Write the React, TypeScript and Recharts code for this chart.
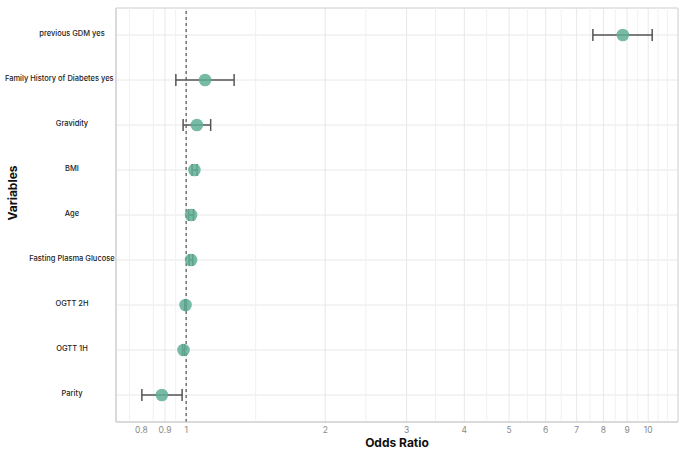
import React from 'react';
import {
  ScatterChart, Scatter, XAxis, YAxis, CartesianGrid, ErrorBar,
  ReferenceLine, ReferenceArea,
} from 'recharts';

// rows from bottom (y=1) to top (y=9)
const VARIABLES = [
  'Parity', 'OGTT 1H', 'OGTT 2H', 'Fasting Plasma Glucose', 'Age',
  'BMI', 'Gravidity', 'Family History of Diabetes yes', 'previous GDM yes',
];
const ODDS = [0.886, 0.987, 0.997, 1.025, 1.025, 1.042, 1.055, 1.099, 8.81];
const LOWER = [0.802, 0.982, 0.993, 1.015, 1.012, 1.03, 0.985, 0.95, 7.59];
const UPPER = [0.98, 0.992, 1.001, 1.034, 1.037, 1.056, 1.13, 1.27, 10.2];

const X_TICKS = [0.8, 0.9, 1, 2, 3, 4, 5, 6, 7, 8, 9, 10];
const X_MINOR = [0.754, 0.849, 0.949, 1.414, 2.449, 3.464, 4.472, 5.477, 6.481, 7.483, 8.485, 9.487, 10.5, 11];
const X_DOMAIN = [0.705, 11.6];
const Y_DOMAIN = [0.4, 9.6];
const Y_TICKS = [1, 2, 3, 4, 5, 6, 7, 8, 9];

const data = VARIABLES.map((name, i) => ({
  name,
  x: ODDS[i],
  y: i + 1,
  ci: [ODDS[i] - LOWER[i], UPPER[i] - ODDS[i]],
}));

function VarTick(props: any) {
  const { y, payload } = props;
  const label = VARIABLES[Math.round(payload.value) - 1] ?? '';
  // rough width estimate for 7.5px Inter
  const w = label.length * 3.65;
  const cx = Math.min(72, 114 - w / 2);
  return (
    <text x={cx} y={y - 1} textAnchor="middle" dominantBaseline="middle"
      fontFamily="Inter" fontSize={7.5} fontWeight={500} fill="#222">
      {label}
    </text>
  );
}

function YTitle(props: any) {
  const vb = props.viewBox;
  const x = vb.x + 14;
  const y = vb.y + vb.height / 2 - 22;
  return (
    <text x={x} y={y} transform={`rotate(-90 ${x} ${y})`} textAnchor="middle"
      dominantBaseline="middle" fontFamily="Inter" fontSize={12} fontWeight={700} fill="#111">
      Variables
    </text>
  );
}

function Dot(props: any) {
  return <circle cx={props.cx} cy={props.cy} r={6.3} fill="#5fae97" fillOpacity={0.85} />;
}

export default function App() {
  return (
    <div style={{ position: 'absolute', left: 0, top: 0, background: '#fff' }}>
      <ScatterChart width={685} height={457} margin={{ top: 8, right: 7, bottom: 0, left: 0 }}>
        {X_MINOR.map(v => (
          <ReferenceLine key={v} x={v} stroke="#f1f1f1" strokeWidth={1} />
        ))}
        <CartesianGrid stroke="#e8e8e8" />
        <ReferenceArea x1={X_DOMAIN[0]} x2={X_DOMAIN[1]} y1={Y_DOMAIN[0]} y2={Y_DOMAIN[1]}
          fill="none" stroke="#d8d8d8" strokeWidth={1} />
        <XAxis type="number" dataKey="x" scale="log" domain={X_DOMAIN} allowDataOverflow
          ticks={X_TICKS} tickFormatter={(v: number) => String(v)} height={35}
          tickLine={false} axisLine={{ stroke: '#cfcfcf' }} tickSize={3} tickMargin={2}
          tick={{ fontFamily: 'Inter', fontSize: 8.5, fill: '#8a8a8a' }}
          label={{ value: 'Odds Ratio', position: 'insideBottom', offset: 10,
            style: { fontFamily: 'Inter', fontSize: 12, fontWeight: 700, fill: '#111' } }} />
        <YAxis type="number" dataKey="y" domain={Y_DOMAIN} ticks={Y_TICKS} width={116}
          tickLine={false} axisLine={{ stroke: '#cfcfcf' }} tick={<VarTick />}
          label={{ content: <YTitle /> }} />
        <ReferenceLine x={1} stroke="#555" strokeDasharray="3 3" strokeWidth={1.2} />
        <Scatter data={data} shape={<Dot />} isAnimationActive={false}>
          <ErrorBar dataKey="ci" direction="x" width={6} stroke="#555" strokeWidth={1.5} />
        </Scatter>
      </ScatterChart>
    </div>
  );
}
